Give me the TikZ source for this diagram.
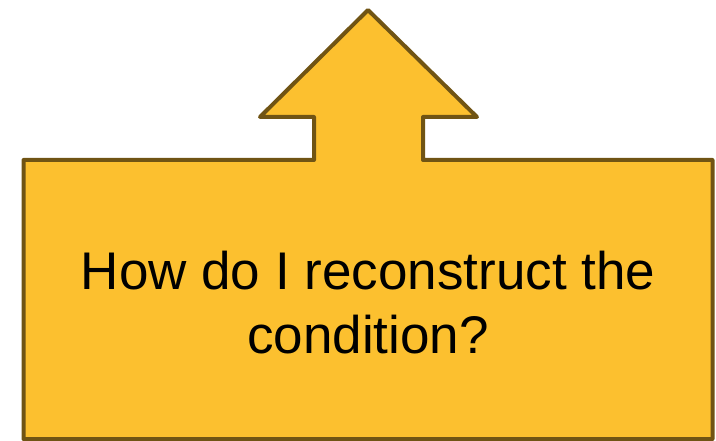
\documentclass[tikz,border=0pt]{standalone}
\usepackage{fontspec}
\setmainfont{Liberation Sans}
\definecolor{CalloutFill}{RGB}{252,192,47}
\definecolor{CalloutLine}{RGB}{112,84,20}

\begin{document}
\begin{tikzpicture}[
    x=1pt, y=-1pt,
    callout/.style={draw=CalloutLine, fill=CalloutFill, line width=4pt, line join=round},
    label/.style={align=center, font=\fontsize{53}{64}\selectfont, text=black}
]
    \useasboundingbox (0,0) rectangle (716,441);
    % arrow callout, drawn as one outline
    \draw[callout] (23.5,160) -- (314,160) -- (314,117) -- (260,117) -- (368,10)
        -- (477,117) -- (423,117) -- (423,160) -- (712.5,160) -- (712.5,439)
        -- (23.5,439) -- cycle;
    \node[label] (question) at (368,303) {How do I reconstruct the\\condition?};
\end{tikzpicture}
\end{document}
